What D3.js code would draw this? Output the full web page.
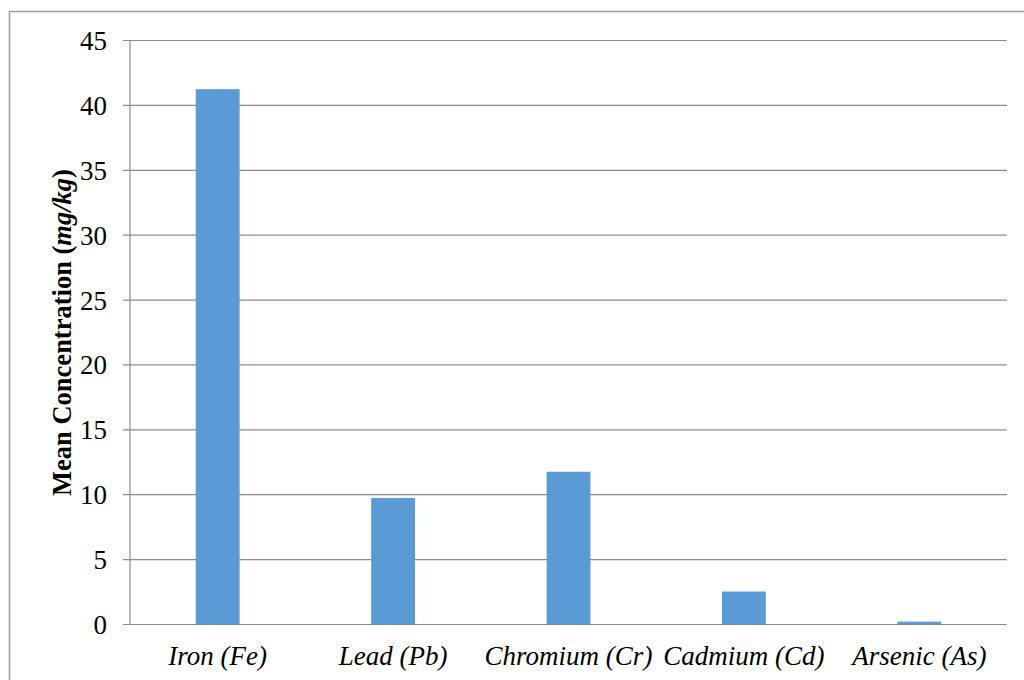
<html>
  <head>
    <meta charset="utf-8">
    <title>Mean Concentration</title>
    <script src="https://d3js.org/d3.v7.min.js" charset="utf-8"></script>
    <style>
      body { margin: 0; background: #fff; }
      text { font-family: "Liberation Serif", "Times New Roman", serif; fill: #000; }
    </style>
  </head>
  <body>
    <script>
      // data
      var metals = ["Iron (Fe)", "Lead (Pb)", "Chromium (Cr)", "Cadmium (Cd)", "Arsenic (As)"];
      var meanConc = [41.25, 9.75, 11.77, 2.54, 0.22];
      var yTicks = [0, 5, 10, 15, 20, 25, 30, 35, 40, 45];

      var width = 1024,
          height = 680;

      var svg = d3.select("body").append("svg")
        .attr("width", width)
        .attr("height", height);

      // outer chart border
      svg.append("rect")
        .attr("x", 9.5).attr("y", 11.5)
        .attr("width", 1030).attr("height", 700)
        .attr("fill", "none")
        .attr("stroke", "#9a9a9a")
        .attr("stroke-width", 1.5);

      var plotL = 130, plotR = 1007, plotT = 40.5, plotB = 624.5;

      var x = d3.scaleBand()
        .domain(metals)
        .range([plotL, plotR])
        .paddingInner(0.75)
        .paddingOuter(0.375);

      var y = d3.scaleLinear()
        .domain([0, 45])
        .range([plotB, plotT]);

      // gridlines + tick marks
      svg.append("g").selectAll("line")
        .data(yTicks)
        .enter().append("line")
        .attr("x1", plotL - 7).attr("x2", plotR)
        .attr("y1", function(d) { return y(d); })
        .attr("y2", function(d) { return y(d); })
        .attr("stroke", "#8c8c8c")
        .attr("stroke-width", 1.2);

      // y axis line
      svg.append("line")
        .attr("x1", plotL).attr("x2", plotL)
        .attr("y1", plotT).attr("y2", plotB)
        .attr("stroke", "#8c8c8c")
        .attr("stroke-width", 1.2);

      // tick labels
      svg.append("g").selectAll("text")
        .data(yTicks)
        .enter().append("text")
        .attr("x", 107)
        .attr("y", function(d) { return y(d); })
        .attr("dy", "0.35em")
        .attr("text-anchor", "end")
        .style("font-size", "27px")
        .text(function(d) { return d; });

      // bars
      svg.append("g").selectAll("rect")
        .data(meanConc)
        .enter().append("rect")
        .attr("x", function(d, i) { return x(metals[i]); })
        .attr("width", x.bandwidth())
        .attr("y", function(d) { return y(d); })
        .attr("height", function(d) { return y(0) - y(d); })
        .attr("fill", "#5b9bd5");

      // category labels
      svg.append("g").selectAll("text")
        .data(metals)
        .enter().append("text")
        .attr("x", function(d) { return x(d) + x.bandwidth() / 2; })
        .attr("y", 665)
        .attr("text-anchor", "middle")
        .style("font-size", "27px")
        .style("font-style", "italic")
        .text(function(d) { return d; });

      // y axis title
      var title = svg.append("text")
        .attr("transform", "translate(71," + (plotT + plotB) / 2 + ") rotate(-90)")
        .attr("text-anchor", "middle")
        .style("font-size", "26.5px")
        .style("font-weight", "bold");
      title.append("tspan").text("Mean Concentration (");
      title.append("tspan").style("font-style", "italic").text("mg/kg");
      title.append("tspan").text(")");
    </script>
  </body>
</html>
